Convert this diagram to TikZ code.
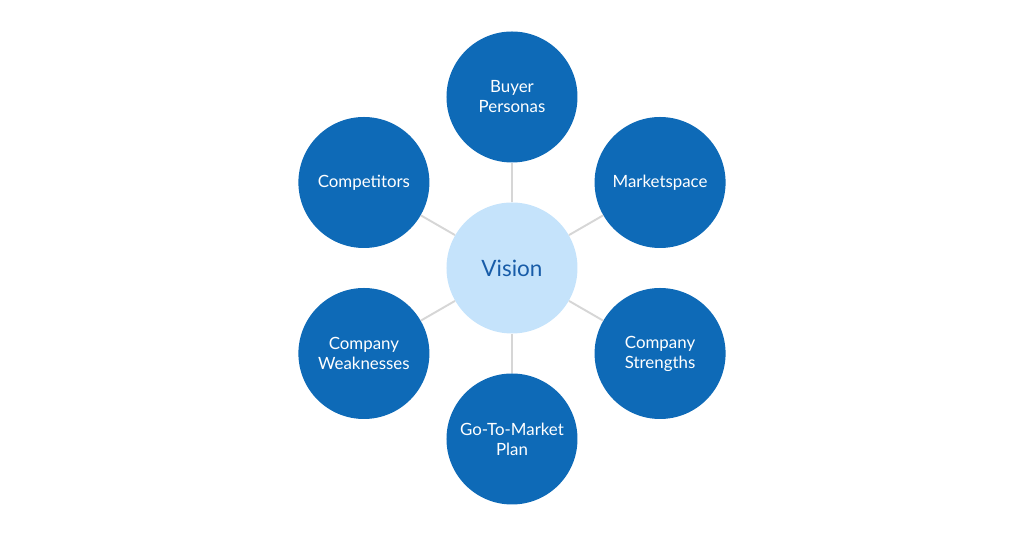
\documentclass[tikz,border=0pt]{standalone}
\usepackage{fontspec}
\setmainfont{Lato}
\definecolor{hubblue}{RGB}{197,227,251}
\definecolor{topicblue}{RGB}{14,106,183}
\definecolor{visiontext}{RGB}{24,92,168}
\definecolor{spoke}{RGB}{214,214,214}
\begin{document}
\begin{tikzpicture}[
    topic/.style={circle, fill=topicblue, minimum size=2.62cm, inner sep=0pt,
                  align=center, text=white, font=\fontsize{9.6}{11.4}\selectfont},
    hub/.style={circle, fill=hubblue, minimum size=2.62cm, inner sep=0pt,
                text=visiontext, font=\fontsize{12.8}{15}\selectfont},
    link/.style={draw=spoke, line width=1.1pt}
]
\useasboundingbox (-10.24,-5.36) rectangle (10.24,5.36);

% Centru
\node[hub] (vision) at (0,0) {Vision};

% Noduri (teme)
\node[topic] (buyers)     at (90:3.42)  {Buyer\\Personas};
\node[topic] (market)     at (30:3.42)  {Marketspace};
\node[topic] (strengths)  at (-30:3.42) {Company\\Strengths};
\node[topic] (gtm)        at (-90:3.42) {Go-To-Market\\Plan};
\node[topic] (weaknesses) at (210:3.42) {Company\\Weaknesses};
\node[topic] (rivals)     at (150:3.42) {Competitors};

% Legaturi
\draw[link] (vision) -- (buyers);
\draw[link] (vision) -- (market);
\draw[link] (vision) -- (strengths);
\draw[link] (vision) -- (gtm);
\draw[link] (vision) -- (weaknesses);
\draw[link] (vision) -- (rivals);

\end{tikzpicture}
\end{document}
